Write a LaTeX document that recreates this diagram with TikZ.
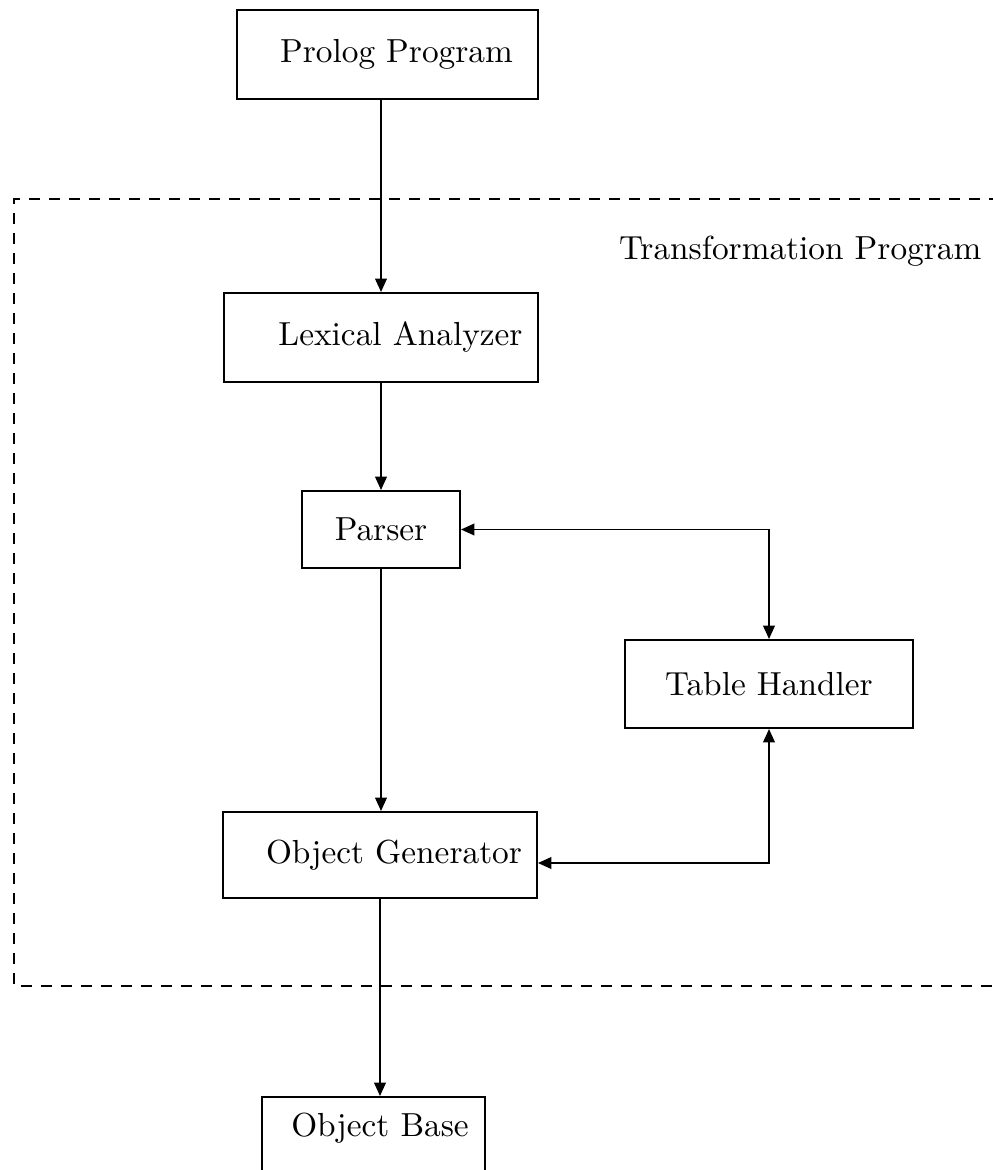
\documentclass[tikz,border=0pt]{standalone}
\usetikzlibrary{arrows.meta}
\begin{document}
\begin{tikzpicture}[x=0.3pt,y=-0.3pt,
  box/.style={draw,line width=0.6pt,inner sep=0pt,font=\fontsize{10}{12}\selectfont},
  conn/.style={line width=0.5pt},
  tip/.style={-{Triangle[length=4pt,width=3.5pt]}},
  frame/.style={line width=0.6pt,dash pattern=on 3.4pt off 2.6pt}]
\useasboundingbox (0,0) rectangle (992,1170);
\node[box,minimum width=90.3pt,minimum height=26.7pt] (prolog) at (387.5,54.5) {\hspace*{5.4pt}Prolog Program};
\node[box,minimum width=94.2pt,minimum height=26.7pt] (lex) at (381,337.5) {\hspace*{11.7pt}\raisebox{2.4pt}{Lexical Analyzer}};
\node[box,minimum width=47.4pt,minimum height=23.1pt] (parser) at (381,529.5) {Parser};
\node[box,minimum width=86.4pt,minimum height=26.4pt] (th) at (769,684) {Table Handler};
\node[box,minimum width=94.2pt,minimum height=25.8pt] (og) at (380,855) {\hspace*{8.4pt}Object Generator};
\node[box,minimum width=66.9pt,minimum height=24.9pt] (ob) at (373.5,1138.5) {\hspace*{3.9pt}\raisebox{8.4pt}{Object Base}};
\coordinate (frTR) at (1000,199);
\coordinate (frTL) at (14,199);
\coordinate (frBL) at (14,986);
\coordinate (frBR) at (1000,986);
\draw[frame] (frTR) -- (frTL) -- (frBL) -- (frBR);
\node[anchor=base east,inner sep=0pt,font=\fontsize{10}{12}\selectfont] (tp) at (982,260) {Transformation Program};
\draw[conn,tip] (lex.north |- prolog.south) -- (lex.north);
\draw[conn,tip] (lex.south) -- (parser.north);
\draw[conn,tip] (parser.south) -- (parser.south |- og.north);
\draw[conn,tip] (og.south) -- (og.south |- ob.north);
\draw[conn,{Triangle[length=4pt,width=3.5pt]}-{Triangle[length=4pt,width=3.5pt]}] (parser.east) -| (th.north);
\draw[conn,{Triangle[length=4pt,width=3.5pt]}-{Triangle[length=4pt,width=3.5pt]}] (th.south) |- ([yshift=-2.4pt]og.east);
\end{tikzpicture}
\end{document}
